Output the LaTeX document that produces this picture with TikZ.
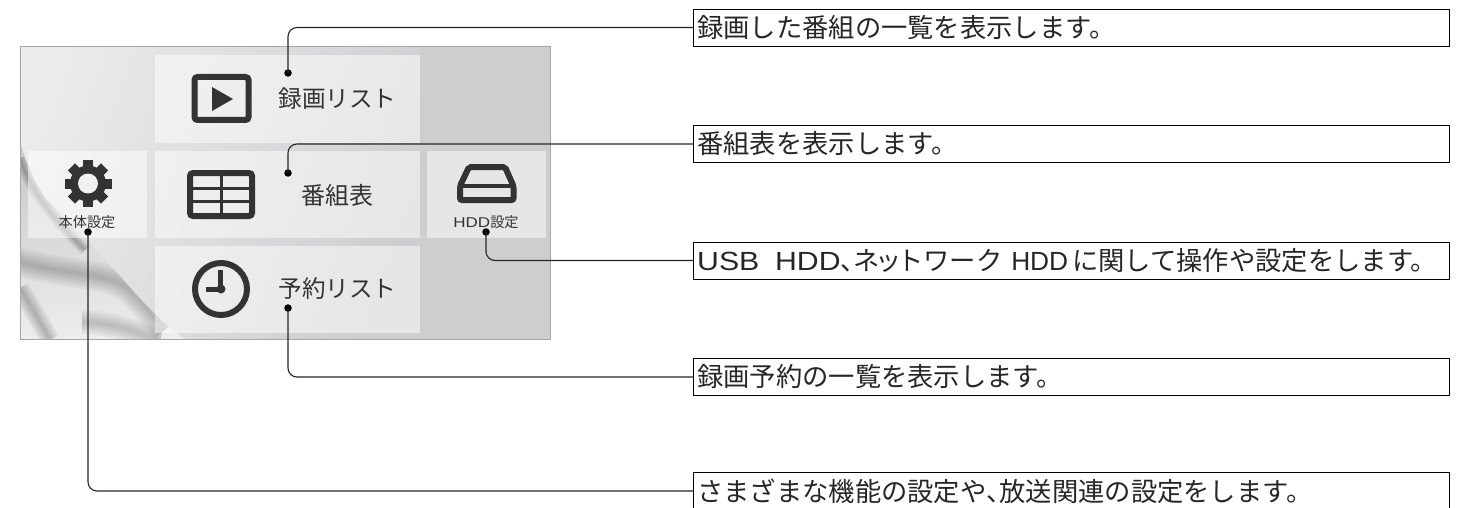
\documentclass[tikz,border=0pt]{standalone}
\usepackage{fontspec}
\setmainfont{Noto Sans CJK JP}
\newfontfamily\latinfont{Liberation Sans}
\newfontfamily\widelatin[FakeStretch=1.15]{Liberation Sans}
\newfontfamily\smalllatin[FakeStretch=1.2]{Liberation Sans}
\definecolor{icongray}{HTML}{333333}
\definecolor{panelgray}{HTML}{CDCED0}
\newcommand{\narrowmark}{\makebox[13pt][l]{、}}
\tikzset{
  descbox/.style = {anchor = west, minimum width = 756pt, minimum height = 37pt, inner sep = 4pt, text width = 748pt, align = left, font = \fontsize{26.3}{26}\selectfont, text = black!85},
  tile/.style = {fill = white, fill opacity = 0.5},
  icon/.style = {fill = icongray},
  iconline/.style = {draw = icongray, line width = 6pt, rounded corners = 3pt},
  biglabel/.style = {text = icongray, font = \fontsize{23.6}{24}\selectfont},
  smalllabel/.style = {text = icongray, font = \fontsize{14.2}{14}\selectfont},
  dot/.style = {circle, fill = black, inner sep = 0pt, minimum size = 7.5pt},
  leader/.style = {draw = black!85, line width = 1.1pt, rounded corners = 9pt}
}
\begin{document}
\begin{tikzpicture}[x = 1pt, y = -1pt]
\useasboundingbox (0,0) rectangle (1475,508);
\fill [panelgray] (20,47) rectangle (550,339);
\shade [left color = black!8, right color = panelgray, shading angle = 70] (20,47) -- (420,47) -- (420,339) -- (20,339) -- cycle;
\begin{scope}
\clip (20,143) .. controls (30,175) and (42,195) .. (50,203) .. controls (62,215) and (75,228) .. (87,240) .. controls (100,255) and (115,270) .. (128,285) .. controls (145,305) and (165,325) .. (185,339) -- (20,339) -- cycle;
\shade [top color = black!22, bottom color = black!7] (20,143) rectangle (190,339);
\foreach \w in {4,9,...,29} {\draw [black, opacity = 0.04, line width = \w pt] (14,260) .. controls (50,272) and (90,272) .. (118,282) .. controls (135,292) and (145,305) .. (165,330);}
\foreach \w in {3,7,...,19} {\draw [black, opacity = 0.05, line width = \w pt] (20,288) .. controls (30,305) and (42,325) .. (50,340);}
\foreach \w in {2,5,...,11} {\draw [black, opacity = 0.07, line width = \w pt] (20,158) .. controls (30,190) and (50,215) .. (85,250);}
\foreach \w in {4,9,...,24} {\draw [black, opacity = 0.04, line width = \w pt] (82,322) .. controls (105,322) and (130,330) .. (160,340);}
\end{scope}
\draw [black!35, line width = 1pt] (20,47) rectangle (550,339);
\fill [tile] (155,55) rectangle (420,143);
\fill [tile] (155,151) rectangle (420,238);
\fill [tile] (155,246) rectangle (420,333);
\fill [tile] (28,151) rectangle (147,238);
\fill [tile] (427,151) rectangle (546,238);
\draw [iconline] (194.5,77) rectangle (248.5,120);
\fill [icon] (212,87) -- (233,99) -- (212,111) -- cycle;
\draw [iconline] (190,173) rectangle (252,216);
\draw [draw = icongray, line width = 3.5pt] (190,188.5) -- (252,188.5);
\draw [draw = icongray, line width = 3.5pt] (190,201.5) -- (252,201.5);
\draw [draw = icongray, line width = 3.5pt] (221.5,173) -- (221.5,216);
\draw [draw = icongray, line width = 6pt] (221,289) circle (26);
\draw [draw = icongray, line width = 5pt] (220.5,270) -- (220.5,289) -- (206,289);
\fill [icon] (221,289) circle (4.5);
\foreach \a in {0,45,...,315} {\fill [icon, rotate around = {\a:(88,183.5)}] (83,160) rectangle (93,172);}
\fill [icon] (88,183.5) circle (18);
\fill [black!6] (88,183.5) circle (10);
\draw [iconline, rounded corners = 2pt] (460,200) -- (460,186) -- (469,167) -- (505,167) -- (513.5,186) -- (513.5,200) -- cycle;
\draw [draw = icongray, line width = 4pt] (460,186) -- (513.5,186);
\node [biglabel] (reclabel) at (337.5,99) {録画リスト};
\node [biglabel] (guidelabel) at (337.5,195) {\fontsize{24}{24}\selectfont 番組表};
\node [biglabel] (reservelabel) at (337.5,289) {予約リスト};
\node [smalllabel] (setuplabel) at (87,222) {本体設定};
\node [smalllabel] (hddlabel) at (486,222) {{\smalllatin HDD}設定};
\node [descbox, draw] (recdesc) at (693,27.5) {録画した番組の一覧を表示します。};
\node [descbox, draw] (guidedesc) at (693,144) {番組表を表示します。};
\node [descbox, draw] (hdddesc) at (693,260.5) {{\widelatin USB \hspace{7pt}HDD}\narrowmark ネ\hspace{-4.5pt}ッ\hspace{-4.5pt}トワーク {\latinfont HDD}\hspace{4pt}に関して操作や設定をします。};
\node [descbox, draw] (reservedesc) at (693,377) {録画予約の一覧を表示します。};
\node [descbox] (setupdesc) at (693,491) {さまざまな機能の設定や\narrowmark 放送関連の設定をします。};
\draw (setupdesc.south west) -- (setupdesc.north west) -- (setupdesc.north east) -- (setupdesc.south east);
\node [dot] (recdot) at (288,73) {};
\node [dot] (guidedot) at (288,173) {};
\node [dot] (hdddot) at (486,232) {};
\node [dot] (reservedot) at (288,308) {};
\node [dot] (setupdot) at (88,232) {};
\draw [leader] (recdot.center) |- (recdesc.west);
\draw [leader] (guidedot.center) |- (guidedesc.west);
\draw [leader] (hdddot.center) |- (hdddesc.west);
\draw [leader] (reservedot.center) |- (reservedesc.west);
\draw [leader] (setupdot.center) |- (setupdesc.west);
\end{tikzpicture}
\end{document}
